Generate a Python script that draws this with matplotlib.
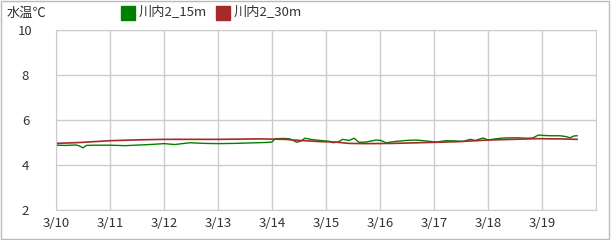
import matplotlib.pyplot as plt
from matplotlib.patches import Rectangle

plt.rcParams['font.family'] = ['Noto Sans CJK JP', 'DejaVu Sans']

# days since 3/10 00:00, water temperature
days_15m = [0, 0.19, 0.37, 0.44, 0.5, 0.56, 0.72, 1.0, 1.28, 1.56, 1.74, 2.0, 2.2,
            2.48, 2.76, 3.0, 3.31, 3.59, 3.87, 4.0, 4.06, 4.24, 4.33, 4.46, 4.54,
            4.61, 4.74, 4.94, 5.07, 5.13, 5.22, 5.31, 5.43, 5.52, 5.61, 5.74, 5.93,
            6.02, 6.11, 6.3, 6.48, 6.67, 6.85, 7.04, 7.22, 7.39, 7.54, 7.67, 7.76,
            7.91, 8.0, 8.13, 8.28, 8.54, 8.72, 8.83, 8.93, 9.06, 9.15, 9.33, 9.43,
            9.52, 9.59, 9.65]
temp_15m = [4.88, 4.87, 4.89, 4.84, 4.76, 4.87, 4.88, 4.88, 4.86, 4.89, 4.91, 4.95, 4.91,
            4.99, 4.96, 4.95, 4.96, 4.98, 5.0, 5.02, 5.17, 5.18, 5.16, 5.01, 5.07,
            5.19, 5.13, 5.08, 5.05, 4.99, 5.02, 5.14, 5.09, 5.19, 5.01, 5.02, 5.11,
            5.09, 4.99, 5.05, 5.09, 5.11, 5.07, 5.02, 5.08, 5.07, 5.05, 5.14, 5.09,
            5.2, 5.11, 5.16, 5.2, 5.21, 5.19, 5.2, 5.33, 5.31, 5.3, 5.3, 5.27,
            5.21, 5.29, 5.3]

days_30m = [0, 0.44, 1.0, 1.56, 2.0, 3.0, 3.78, 4.24, 4.52, 4.89, 5.17, 5.43, 5.74,
            6.24, 6.72, 7.22, 7.48, 8.0, 8.91, 9.33, 9.65]
temp_30m = [4.96, 5.0, 5.08, 5.12, 5.14, 5.14, 5.16, 5.14, 5.09, 5.04, 5.02, 4.96, 4.95,
            4.96, 4.99, 5.02, 5.04, 5.11, 5.17, 5.16, 5.14]

date_labels = ['3/10', '3/11', '3/12', '3/13', '3/14', '3/15', '3/16', '3/17', '3/18', '3/19']
y_ticks = [2, 4, 6, 8, 10]

fig = plt.figure(figsize=(6.12, 2.4), dpi=100)
ax = fig.add_axes([56 / 612, 30 / 240, 540 / 612, 180 / 240])

ax.plot(days_15m, temp_15m, color='#008000', lw=1)
ax.plot(days_30m, temp_30m, color='#a52a2a', lw=1.2)

ax.set_xlim(0, 10)
ax.set_ylim(2, 10)
ax.set_xticks(range(10))
ax.set_xticklabels(date_labels)
ax.set_yticks(y_ticks)
ax.grid(True, color='#cccccc', lw=1)
for s in ax.spines.values():
    s.set_color('#cccccc')
ax.tick_params(length=0, labelsize=9.5, colors='#333333')
ax.tick_params(axis='x', pad=5)
ax.tick_params(axis='y', pad=22)
for lab in ax.get_yticklabels():
    lab.set_horizontalalignment('center')

# title and legend along the top
fig.text(7 / 612, 1 - 13 / 240, '水温℃', fontsize=9.5, color='#333333', va='center')
fig.patches.append(Rectangle((121 / 612, 1 - 20 / 240), 14 / 612, 14 / 240,
                             transform=fig.transFigure, color='#008000'))
fig.text(139 / 612, 1 - 13 / 240, '川内2_15m', fontsize=9.5, color='#333333', va='center')
fig.patches.append(Rectangle((216 / 612, 1 - 20 / 240), 14 / 612, 14 / 240,
                             transform=fig.transFigure, color='#a52a2a'))
fig.text(234 / 612, 1 - 13 / 240, '川内2_30m', fontsize=9.5, color='#333333', va='center')

# outer frame
fig.patches.append(Rectangle((0.5 / 612, 1.5 / 240), 608 / 612, 238 / 240, fill=False,
                             transform=fig.transFigure, edgecolor='#bbbbbb', lw=1))

fig.savefig('out.png', dpi=100)
